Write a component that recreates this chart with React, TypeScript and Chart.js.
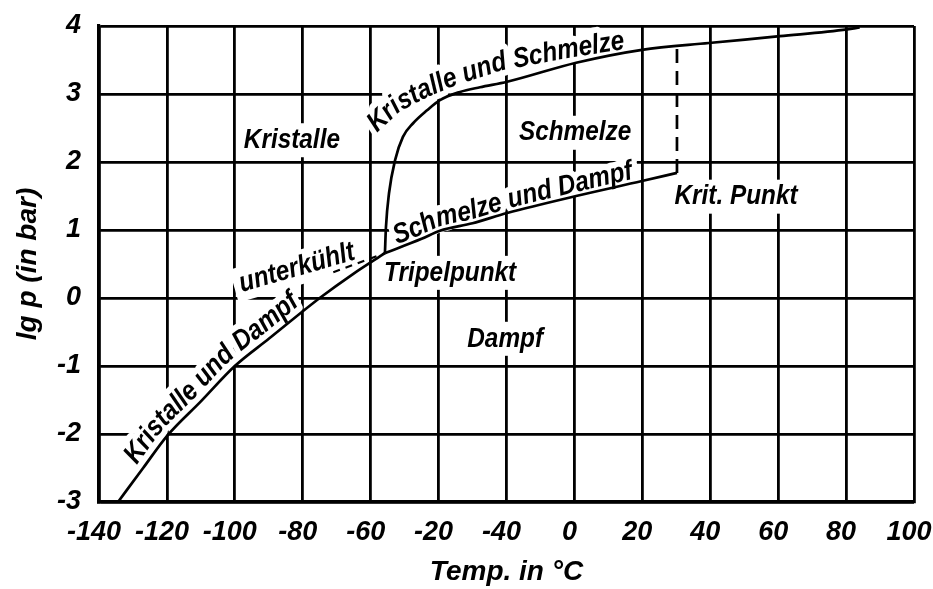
import React, { useEffect, useRef } from 'react';
import { Chart, registerables } from 'chart.js';

Chart.register(...registerables);

// ---- tick labels (as printed in the original figure) ----
const xTickLabels = ['-140', '-120', '-100', '-80', '-60', '-20', '-40', '0', '20', '40', '60', '80', '100'];
const yTickLabels = ['-3', '-2', '-1', '0', '1', '2', '3', '4'];

// ---- curves (temperature in °C, lg p in bar) ----
const meltingT = [-55.8, -55.5, -54.6, -52.8, -50.5, -47.5, -43.4, -39.6, -33.7, -27.8, -19.8, 0.5, 19.9, 39.6, 60.5, 80.3, 84];
const meltingLg = [0.66, 1.04, 1.54, 2.03, 2.37, 2.57, 2.76, 2.91, 3.03, 3.1, 3.18, 3.46, 3.65, 3.75, 3.85, 3.95, 3.98];

const vaporT = [-55.8, -45, -39.6, -30, -19.8, 0.5, 19.9, 30.2];
const vaporLg = [0.66, 0.87, 0.99, 1.1, 1.25, 1.5, 1.72, 1.84];

const sublimT = [-134.4, -127, -120, -110, -100, -90, -75, -65, -55.8];
const sublimLg = [-3.0, -2.5, -2.03, -1.52, -1.0, -0.6, 0.0, 0.36, 0.66];

const criticalT = [30.2, 30.2];
const criticalLg = [1.84, 3.68];

const supercooledT = [-71, -55.8];
const supercooledLg = [0.38, 0.66];

// ---- text annotations ----
const areaLabels = [
  { text: 'Kristalle', x: -83.2, y: 2.32, angle: 0 },
  { text: 'Schmelze', x: 0.2, y: 2.43, angle: 0 },
  { text: 'Krit. Punkt', x: 47.6, y: 1.49, angle: 0 },
  { text: 'Tripelpunkt', x: -36.6, y: 0.37, angle: 0 },
  { text: 'Dampf', x: -20.4, y: -0.6, angle: 0 },
  { text: 'unterkühlt', x: -81.7, y: 0.44, angle: -16 },
];

// baseline guide for the label written above the melting curve
const meltLabelGuideT = [-58.1, -51.4, -43.4, -35.8, -21.9, -4.2, 15.5, 25];
const meltLabelGuideLg = [2.43, 2.74, 2.95, 3.11, 3.34, 3.51, 3.67, 3.73];

const curveLabels = [
  { text: 'Kristalle und Schmelze', guideT: meltLabelGuideT, guideLg: meltLabelGuideLg },
  { text: 'Schmelze und Dampf', dataset: 1, startX: -52, startY: 0.74, offset: 4 },
  { text: 'Kristalle und Dampf', dataset: 2, startX: -127.5, startY: -2.5, offset: 7 },
];

const toPoints = (xs: number[], ys: number[]) => xs.map((x, i) => ({ x, y: ys[i] }));

const AXIS_FAMILY = '"Liberation Sans", Arial, Helvetica, sans-serif';
const LABEL_FONT = 'italic bold 28px "Liberation Sans", Arial, sans-serif';
const LABEL_SQUEEZE = 0.87;

type P = { x: number; y: number };

function densePath(chart: any, dsIndex: number) {
  const meta = chart.getDatasetMeta(dsIndex);
  const line: any = meta.dataset;
  if (line && typeof line.updateControlPoints === 'function') {
    line.updateControlPoints(chart.chartArea, 'x');
  }
  const pts: any[] = meta.data;
  const out: P[] = [];
  for (let i = 0; i < pts.length - 1; i++) {
    const a = pts[i];
    const b = pts[i + 1];
    const c1x = a.cp2x ?? a.x, c1y = a.cp2y ?? a.y;
    const c2x = b.cp1x ?? b.x, c2y = b.cp1y ?? b.y;
    const steps = 30;
    for (let k = 0; k < steps; k++) {
      const t = k / steps;
      const mt = 1 - t;
      const x = mt * mt * mt * a.x + 3 * mt * mt * t * c1x + 3 * mt * t * t * c2x + t * t * t * b.x;
      const y = mt * mt * mt * a.y + 3 * mt * mt * t * c1y + 3 * mt * t * t * c2y + t * t * t * b.y;
      out.push({ x, y });
    }
  }
  const last = pts[pts.length - 1];
  out.push({ x: last.x, y: last.y });
  return out;
}

function drawCurveLabel(chart: any, lab: any) {
  const ctx: CanvasRenderingContext2D = chart.ctx;
  const xs = chart.scales.x, ys = chart.scales.y;
  let off: P[];
  let startIdx = 0;
  if (lab.guideT) {
    off = lab.guideT.map((t: number, i: number) => ({ x: xs.getPixelForValue(t), y: ys.getPixelForValue(lab.guideLg[i]) }));
  } else {
    const dense = densePath(chart, lab.dataset);
    const n = dense.length;
    off = [];
    for (let j = 0; j < n; j++) {
      const p0 = dense[Math.max(j - 3, 0)];
      const p1 = dense[Math.min(j + 3, n - 1)];
      let dx = p1.x - p0.x, dy = p1.y - p0.y;
      const len = Math.hypot(dx, dy) || 1;
      dx /= len; dy /= len;
      off.push({ x: dense[j].x + dy * lab.offset, y: dense[j].y - dx * lab.offset });
    }
    const sx = xs.getPixelForValue(lab.startX);
    const sy = ys.getPixelForValue(lab.startY);
    let bestD = Infinity;
    for (let j = 0; j < n; j++) {
      const d = Math.hypot(dense[j].x - sx, dense[j].y - sy);
      if (d < bestD) { bestD = d; startIdx = j; }
    }
  }
  const n = off.length;
  const cum = [0];
  for (let j = 1; j < n; j++) cum.push(cum[j - 1] + Math.hypot(off[j].x - off[j - 1].x, off[j].y - off[j - 1].y));
  const at = (s: number): P => {
    if (s <= 0) return off[0];
    for (let j = 1; j < n; j++) {
      if (cum[j] >= s) {
        const f = (s - cum[j - 1]) / ((cum[j] - cum[j - 1]) || 1);
        return { x: off[j - 1].x + (off[j].x - off[j - 1].x) * f, y: off[j - 1].y + (off[j].y - off[j - 1].y) * f };
      }
    }
    return off[n - 1];
  };
  ctx.save();
  ctx.font = LABEL_FONT;
  ctx.textAlign = 'center';
  ctx.textBaseline = 'alphabetic';
  const chars = Array.from(lab.text as string);
  const placed: any[] = [];
  let s = cum[startIdx];
  for (const ch of chars) {
    const w = ctx.measureText(ch).width * LABEL_SQUEEZE;
    const pa = at(s);
    const pb = at(s + w);
    const pm = at(s + w / 2);
    placed.push({ ch, x: pm.x, y: pm.y, a: Math.atan2(pb.y - pa.y, pb.x - pa.x) });
    s += w;
  }
  ctx.strokeStyle = '#ffffff';
  ctx.lineWidth = 12;
  ctx.lineJoin = 'round';
  for (const p of placed) {
    ctx.save(); ctx.translate(p.x, p.y); ctx.rotate(p.a); ctx.scale(LABEL_SQUEEZE, 1); ctx.strokeText(p.ch, 0, 0); ctx.restore();
  }
  ctx.fillStyle = '#000000';
  for (const p of placed) {
    ctx.save(); ctx.translate(p.x, p.y); ctx.rotate(p.a); ctx.scale(LABEL_SQUEEZE, 1); ctx.fillText(p.ch, 0, 0); ctx.restore();
  }
  ctx.restore();
}

function drawAreaLabel(chart: any, lab: any) {
  const ctx: CanvasRenderingContext2D = chart.ctx;
  const x = chart.scales.x.getPixelForValue(lab.x);
  const y = chart.scales.y.getPixelForValue(lab.y);
  ctx.save();
  ctx.font = LABEL_FONT;
  ctx.textAlign = 'center';
  ctx.textBaseline = 'middle';
  const w = ctx.measureText(lab.text).width * LABEL_SQUEEZE;
  ctx.translate(x, y);
  ctx.rotate((lab.angle * Math.PI) / 180);
  ctx.fillStyle = '#ffffff';
  ctx.fillRect(-w / 2 - 6, -17, w + 12, 34);
  ctx.scale(LABEL_SQUEEZE, 1);
  ctx.fillStyle = '#000000';
  ctx.fillText(lab.text, 0, 0);
  ctx.restore();
}

const labelPlugin = {
  id: 'phaseLabels',
  beforeDatasetsDraw(chart: any) {
    for (const lab of areaLabels) drawAreaLabel(chart, lab);
    for (const lab of curveLabels) drawCurveLabel(chart, lab);
  },
};

export default function App() {
  const ref = useRef<HTMLCanvasElement>(null);
  useEffect(() => {
    document.body.style.margin = '0';
    const lineStyle = { borderColor: '#000', borderWidth: 2.7, pointRadius: 0, fill: false };
    const chart = new Chart(ref.current as HTMLCanvasElement, {
      type: 'line',
      data: {
        datasets: [
          { ...lineStyle, label: 'Kristalle und Schmelze', data: toPoints(meltingT, meltingLg), cubicInterpolationMode: 'monotone' },
          { ...lineStyle, label: 'Schmelze und Dampf', data: toPoints(vaporT, vaporLg), cubicInterpolationMode: 'monotone' },
          { ...lineStyle, label: 'Kristalle und Dampf', data: toPoints(sublimT, sublimLg), cubicInterpolationMode: 'monotone' },
          { ...lineStyle, label: 'kritisch', data: toPoints(criticalT, criticalLg), borderDash: [14, 8] },
          { ...lineStyle, label: 'unterkühlt', data: toPoints(supercooledT, supercooledLg), borderDash: [7, 6], borderWidth: 2.2 },
        ],
      } as any,
      options: {
        responsive: false,
        animation: false,
        devicePixelRatio: 1,
        layout: { padding: { left: 0, top: 26, right: 0, bottom: 0 } },
        plugins: { legend: { display: false }, tooltip: { enabled: false } },
        scales: {
          x: {
            type: 'linear',
            min: -140,
            max: 100,
            afterFit: (s: any) => { s.height = 87; s.paddingLeft = 0; s.paddingRight = 19; },
            ticks: {
              stepSize: 20,
              color: '#000',
              padding: 14,
              labelOffset: -5,
              maxRotation: 0,
              font: { family: AXIS_FAMILY, size: 27, weight: 'bold', style: 'italic' },
              callback: (v: any) => xTickLabels[Math.round((Number(v) + 140) / 20)],
            },
            grid: { color: '#000', lineWidth: 2.8, drawTicks: false },
            border: { color: '#000', width: 3.2 },
            title: {
              display: true,
              text: 'Temp. in °C',
              color: '#000',
              padding: { top: 0, bottom: 0 },
              font: { family: AXIS_FAMILY, size: 28, weight: 'bold', style: 'italic' },
            },
          },
          y: {
            type: 'linear',
            min: -3,
            max: 4,
            afterFit: (s: any) => { s.width = 99; s.paddingTop = 0; s.paddingBottom = 0; },
            ticks: {
              stepSize: 1,
              color: '#000',
              padding: 18,
              font: { family: AXIS_FAMILY, size: 27, weight: 'bold', style: 'italic' },
              callback: (v: any) => yTickLabels[Math.round(Number(v) + 3)],
            },
            grid: { color: '#000', lineWidth: 2.8, drawTicks: false },
            border: { color: '#000', width: 3.2 },
            title: {
              display: true,
              text: 'lg p (in bar)',
              color: '#000',
              padding: { top: 11, bottom: 0 },
              font: { family: AXIS_FAMILY, size: 28, weight: 'bold', style: 'italic' },
            },
          },
        },
      } as any,
      plugins: [labelPlugin],
    });
    return () => chart.destroy();
  }, []);
  return (
    <div style={{ width: 933, height: 589 }}>
      <canvas ref={ref} width={933} height={589} style={{ display: 'block' }} />
    </div>
  );
}
